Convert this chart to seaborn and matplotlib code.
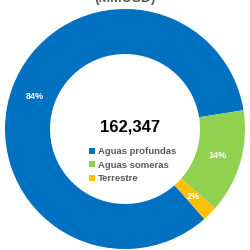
import matplotlib
matplotlib.use("Agg")
import matplotlib.pyplot as plt
import seaborn as sns
import numpy as np
from matplotlib.patches import Patch

sns.set_theme(style="white")
plt.rcParams['font.family'] = ['Liberation Sans', 'DejaVu Sans']

categories = ["Aguas profundas", "Aguas someras", "Terrestre"]
shares = [84, 14, 2]
pct_labels = ["84%", "14%", "2%"]
total_label = "162,347"
title = "(MMUSD)"
colors = ["#0070C0", "#92D050", "#FFC000"]

fig = plt.figure(figsize=(2.5, 2.5), dpi=100)
fig.patch.set_facecolor("white")
ax = fig.add_axes([5/250, 1/250, 240/250, 240/250])

wedges, _ = ax.pie(shares, colors=colors, startangle=-48.6, counterclock=False,
                   radius=1.0, wedgeprops=dict(width=0.375, linewidth=0))
for w, lab in zip(wedges, pct_labels):
    ang = np.deg2rad((w.theta1 + w.theta2) / 2)
    r = 0.8
    ax.text(r*np.cos(ang), r*np.sin(ang), lab, ha="center", va="center",
            color="white", fontsize=6.5, fontweight="bold")
ax.set_xlim(-1, 1)
ax.set_ylim(-1, 1)
ax.set_aspect("equal")
ax.axis("off")

fig.text(130/250, 1 - 127/250, total_label, ha="center", va="center",
         fontsize=12, fontweight="bold", color="black")
fig.text(0.5, 1 + 2/250, title, ha="center", va="center", fontsize=10,
         fontweight="bold", color="#595959")

handles = [Patch(facecolor=c, edgecolor="none") for c in colors]
leg = fig.legend(handles, categories, loc="upper left",
                 bbox_to_anchor=(89/250, 1 - 147/250), frameon=False,
                 fontsize=6.8, handlelength=0.6, handleheight=0.6,
                 handletextpad=0.35, labelspacing=0.5, borderpad=0, borderaxespad=0)
for t in leg.get_texts():
    t.set_color("#595959")
    t.set_fontweight("bold")

fig.savefig("out.png", dpi=100, facecolor="white")
